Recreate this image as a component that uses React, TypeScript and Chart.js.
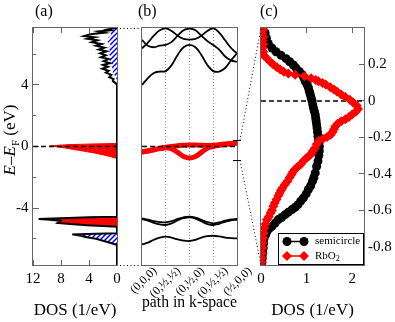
import React, { useEffect, useRef } from 'react';
import { Chart, registerables } from 'chart.js';

Chart.register(...registerables);

const W = 395;
const H = 322;
const SERIF = "'Liberation Serif', 'Times New Roman', serif";
const FRAME = '#666';

// plot rectangles (layout only)
const PA = { left: 33, right: 117, top: 28, bottom: 265 };
const PB = { left: 142, right: 237, top: 28, bottom: 265 };
const PC = { left: 261, right: 364, top: 28, bottom: 265 };

// ---------- axes ----------
const E_MIN_AB = -7.7;
const E_MAX_AB = 7.7;
const E_MIN_C = -0.9;
const E_MAX_C = 0.4;
const DOS_A_MAX = 12;
const DOS_C_MAX = 2.26;
const K_MAX = 4;

const A_X_TICKS = [0, 4, 8, 12];
const A_Y_MAJOR = [-4, 0, 4];
const A_Y_MINOR = [-6, -2, 2, 6];
const C_X_TICKS = [0, 1, 2];
const C_Y_TICKS = [-0.8, -0.6, -0.4, -0.2, 0, 0.2];
const K_TICKS = [0, 1, 2, 3, 4];
const K_LABELS = ['(0,0,0)', '(0,½,½)', '(0,½,0)', '(0,½,½)', '(½,0,0)'];

type Pair = [number, number]; // [energy (eV), DOS (1/eV)]

// ---------- panel (a): DOS ----------
const TOTAL_TOP: Pair[] = [
  [7.7, 0], [7.66, 0.6], [7.6, 1.4], [7.55, 1.0], [7.48, 2.6], [7.4, 1.8], [7.3, 3.8], [7.18, 4.7],
  [7.1, 3.2], [7.0, 4.2], [6.9, 2.8], [6.78, 3.6], [6.66, 2.2], [6.55, 3.0], [6.42, 1.8], [6.3, 2.6],
  [6.18, 1.5], [6.05, 2.4], [5.92, 1.6], [5.8, 2.3], [5.68, 1.2], [5.55, 1.9], [5.42, 1.0], [5.3, 2.0],
  [5.18, 1.3], [5.05, 2.1], [4.92, 1.2], [4.8, 1.6], [4.65, 0.8], [4.5, 1.1], [4.38, 0.5], [4.25, 0.6],
  [4.12, 0.2], [4.0, 0],
];
const BLUE_TOP: Pair[] = [
  [7.7, 0.2], [7.55, 0.6], [7.4, 1.0], [7.25, 0.8], [7.1, 1.3], [6.95, 1.0], [6.8, 1.4], [6.6, 0.9],
  [6.4, 1.3], [6.2, 1.0], [6.0, 1.2], [5.8, 0.8], [5.6, 1.1], [5.4, 0.7], [5.2, 0.9], [5.0, 0.5],
  [4.8, 0.6], [4.6, 0.3], [4.4, 0.1], [4.3, 0],
];
const RED_PEAK_0: Pair[] = [
  [0.2, 0], [0.17, 3.0], [0.12, 7.0], [0.04, 9.6], [-0.04, 8.3], [-0.1, 7.4], [-0.18, 6.4],
  [-0.26, 5.3], [-0.34, 4.3], [-0.44, 3.0], [-0.55, 1.9], [-0.66, 0.9], [-0.74, 0.3], [-0.78, 0],
];
const RED_PEAK_5: Pair[] = [
  [-4.56, 0], [-4.6, 4.0], [-4.66, 8.0], [-4.71, 11.2], [-4.75, 10.0], [-4.82, 8.1], [-4.97, 8.5],
  [-5.05, 6.2], [-5.12, 4.3], [-5.17, 2.0], [-5.21, 0],
];
const BLUE_PEAK_6: Pair[] = [
  [-5.64, 0], [-5.67, 3.0], [-5.71, 6.4], [-5.8, 5.2], [-5.9, 4.3], [-6.0, 3.0], [-6.12, 2.0],
  [-6.25, 1.0], [-6.35, 0.3], [-6.4, 0],
];

// ---------- panel (b): bands along the k path ----------
const K_PATH = [0, 0.25, 0.5, 0.75, 1, 1.25, 1.5, 1.75, 2, 2.25, 2.5, 2.75, 3, 3.25, 3.5, 3.75, 4];
const BAND_1 = [6.38, 6.75, 7.2, 7.55, 7.68, 7.5, 7.2, 7.0, 6.95, 7.0, 7.2, 7.5, 7.68, 7.4, 6.9, 6.4, 6.05];
const BAND_2 = [6.92, 6.55, 6.45, 6.55, 6.6, 6.8, 7.2, 7.55, 7.66, 7.55, 7.2, 6.85, 6.6, 6.3, 5.85, 5.6, 5.5];
const BAND_3 = [4.0, 4.45, 4.78, 4.87, 4.9, 5.3, 5.95, 6.45, 6.6, 6.45, 5.95, 5.3, 4.9, 4.87, 5.1, 5.6, 6.05];
const RED_BAND_1 = [-0.34, -0.28, -0.2, -0.12, -0.05, 0.0, 0.05, 0.08, 0.1, 0.1, 0.08, 0.07, 0.08, 0.12, 0.16, 0.2, 0.25];
const RED_BAND_2 = [-0.36, -0.3, -0.22, -0.14, -0.08, -0.15, -0.38, -0.65, -0.75, -0.65, -0.38, -0.12, 0.0, 0.08, 0.13, 0.18, 0.22];
const LOW_BAND_1 = [-4.67, -4.75, -4.85, -4.91, -4.93, -4.85, -4.7, -4.6, -4.56, -4.62, -4.76, -4.92, -4.99, -4.93, -4.82, -4.74, -4.71];
const LOW_BAND_2 = [-4.72, -4.82, -4.96, -5.06, -5.1, -5.0, -4.8, -4.66, -4.6, -4.68, -4.86, -5.04, -5.1, -5.02, -4.9, -4.8, -4.76];
const LOW_BAND_3 = [-6.36, -6.25, -6.06, -5.92, -5.86, -5.92, -6.04, -6.12, -6.14, -6.06, -5.92, -5.83, -5.8, -5.84, -5.92, -5.96, -5.97];

// ---------- panel (c): DOS near the Fermi level ----------
const SEMICIRCLE: Pair[] = [
  [0.395, 0.0], [0.374, 0.09], [0.345, 0.12], [0.315, 0.16], [0.29, 0.24], [0.27, 0.33], [0.25, 0.44],
  [0.232, 0.55], [0.215, 0.63], [0.197, 0.71], [0.18, 0.77], [0.162, 0.84], [0.145, 0.9], [0.127, 0.94],
  [0.108, 0.97], [0.09, 1.01], [0.072, 1.04], [0.053, 1.06], [0.035, 1.08], [0.017, 1.1], [0.0, 1.12],
  [-0.02, 1.135], [-0.038, 1.15], [-0.056, 1.17], [-0.075, 1.19], [-0.093, 1.2], [-0.11, 1.21],
  [-0.13, 1.22], [-0.149, 1.23], [-0.17, 1.24], [-0.194, 1.25], [-0.212, 1.26], [-0.231, 1.27],
  [-0.25, 1.28], [-0.275, 1.28], [-0.3, 1.27], [-0.33, 1.25], [-0.36, 1.22], [-0.395, 1.19],
  [-0.42, 1.16], [-0.44, 1.13], [-0.465, 1.09], [-0.486, 1.04], [-0.51, 0.99], [-0.532, 0.93],
  [-0.55, 0.87], [-0.569, 0.81], [-0.583, 0.75], [-0.596, 0.68], [-0.61, 0.6], [-0.624, 0.53],
  [-0.64, 0.45], [-0.651, 0.38], [-0.67, 0.31], [-0.688, 0.24], [-0.7, 0.18], [-0.716, 0.13],
  [-0.735, 0.1], [-0.752, 0.07], [-0.78, 0.06], [-0.807, 0.05], [-0.835, 0.04], [-0.862, 0.03],
  [-0.885, 0.02], [-0.905, 0.015],
];
const RBO2: Pair[] = [
  [0.39, 0.05], [0.37, 0.03], [0.35, 0.05], [0.33, 0.03], [0.31, 0.05], [0.29, 0.03], [0.27, 0.05],
  [0.25, 0.06], [0.235, 0.12], [0.215, 0.2], [0.2, 0.27], [0.185, 0.35], [0.172, 0.42], [0.16, 0.5],
  [0.15, 0.6], [0.143, 0.75], [0.136, 0.95], [0.125, 1.1], [0.115, 1.2], [0.108, 1.26], [0.098, 1.35],
  [0.09, 1.42], [0.075, 1.52], [0.062, 1.6], [0.05, 1.67], [0.035, 1.76], [0.022, 1.85], [0.007, 1.95],
  [-0.008, 2.02], [-0.025, 2.1], [-0.044, 2.13], [-0.06, 2.08], [-0.075, 2.0], [-0.088, 1.93],
  [-0.1, 1.85], [-0.112, 1.76], [-0.125, 1.68], [-0.14, 1.63], [-0.155, 1.6], [-0.17, 1.57],
  [-0.185, 1.53], [-0.198, 1.45], [-0.208, 1.36], [-0.218, 1.27], [-0.238, 1.22], [-0.26, 1.18],
  [-0.275, 1.14], [-0.29, 1.1], [-0.303, 1.05], [-0.315, 0.99], [-0.33, 0.93], [-0.349, 0.87],
  [-0.362, 0.8], [-0.376, 0.74], [-0.39, 0.7], [-0.404, 0.67], [-0.42, 0.63], [-0.44, 0.58],
  [-0.46, 0.52], [-0.477, 0.47], [-0.49, 0.44], [-0.505, 0.41], [-0.52, 0.38], [-0.541, 0.34],
  [-0.56, 0.3], [-0.578, 0.27], [-0.6, 0.24], [-0.615, 0.21], [-0.635, 0.17], [-0.651, 0.13],
  [-0.675, 0.1], [-0.697, 0.07], [-0.725, 0.06], [-0.752, 0.05], [-0.78, 0.04], [-0.807, 0.03],
  [-0.835, 0.02], [-0.862, 0.015], [-0.885, 0.01], [-0.905, 0.01],
];
const SERIES_C = ['semicircle', 'RbO2'];

// ---------- helpers ----------
const dosPoints = (pairs: Pair[]) => pairs.map(([e, d]) => ({ x: d, y: e }));
const bandPoints = (band: number[]) => K_PATH.map((k, i) => ({ x: k, y: band[i] }));
const ticksAt = (values: number[]) => (s: any) => {
  s.ticks = values.map((value) => ({ value }));
};
const fixW = (w: number) => (s: any) => {
  s.width = w;
};
const fixH = (h: number) => (s: any) => {
  s.height = h;
};
const fmt = (v: any) => String(v);
const tickFont = { family: SERIF, size: 15 };
const titleFont = { family: SERIF, size: 17 };

const framePlugin = {
  id: 'frame',
  beforeDatasetsDraw(chart: any) {
    const { ctx, chartArea: a } = chart;
    ctx.save();
    ctx.strokeStyle = FRAME;
    ctx.lineWidth = 1;
    ctx.strokeRect(a.left - 0.5, a.top - 0.5, a.right - a.left + 1, a.bottom - a.top + 1);
    ctx.restore();
  },
};

function panelLabel(ctx: CanvasRenderingContext2D, text: string, x: number) {
  ctx.save();
  ctx.font = `16px ${SERIF}`;
  ctx.fillStyle = '#000';
  ctx.textBaseline = 'middle';
  ctx.textAlign = 'left';
  ctx.fillText(text, x, 12);
  ctx.restore();
}

function drawYTitle(ctx: CanvasRenderingContext2D) {
  const parts = [
    { t: 'E', f: `italic 17px ${SERIF}`, dy: 0 },
    { t: '–', f: `17px ${SERIF}`, dy: 0 },
    { t: 'E', f: `italic 17px ${SERIF}`, dy: 0 },
    { t: 'F', f: `11px ${SERIF}`, dy: 4 },
    { t: ' (eV)', f: `17px ${SERIF}`, dy: 0 },
  ];
  ctx.save();
  ctx.translate(15, 140);
  ctx.rotate(-Math.PI / 2);
  ctx.fillStyle = '#000';
  ctx.textBaseline = 'alphabetic';
  ctx.textAlign = 'left';
  let total = 0;
  for (const p of parts) {
    ctx.font = p.f;
    total += ctx.measureText(p.t).width;
  }
  let x = -total / 2;
  for (const p of parts) {
    ctx.font = p.f;
    ctx.fillText(p.t, x, p.dy);
    x += ctx.measureText(p.t).width;
  }
  ctx.restore();
}

function marker(ctx: CanvasRenderingContext2D, shape: string, x: number, y: number, r: number) {
  ctx.beginPath();
  if (shape === 'circle') {
    ctx.arc(x, y, r, 0, Math.PI * 2);
  } else {
    ctx.moveTo(x, y - r);
    ctx.lineTo(x + r, y);
    ctx.lineTo(x, y + r);
    ctx.lineTo(x - r, y);
    ctx.closePath();
  }
  ctx.fill();
}

function drawLegendC(ctx: CanvasRenderingContext2D) {
  const bx = 278.5;
  const by = 233.5;
  ctx.save();
  ctx.fillStyle = '#fff';
  ctx.fillRect(bx, by, 85, 31);
  ctx.strokeStyle = '#000';
  ctx.lineWidth = 1;
  ctx.strokeRect(bx, by, 85, 31);
  const rows = [
    { name: SERIES_C[0], color: '#000', shape: 'circle', r: 4.5, y: 241.5 },
    { name: SERIES_C[1], color: '#f00', shape: 'diamond', r: 5, y: 256 },
  ];
  for (const row of rows) {
    ctx.strokeStyle = row.color;
    ctx.fillStyle = row.color;
    ctx.lineWidth = 1.5;
    ctx.beginPath();
    ctx.moveTo(287, row.y);
    ctx.lineTo(304, row.y);
    ctx.stroke();
    marker(ctx, row.shape, 287, row.y, row.r);
    marker(ctx, row.shape, 304, row.y, row.r);
    ctx.fillStyle = '#000';
    ctx.textBaseline = 'middle';
    ctx.textAlign = 'left';
    const m = row.name.match(/^(.*?)(\d+)$/);
    ctx.font = `11px ${SERIF}`;
    if (m) {
      ctx.fillText(m[1], 315, row.y);
      const w = ctx.measureText(m[1]).width;
      ctx.font = `8px ${SERIF}`;
      ctx.fillText(m[2], 315 + w, row.y + 3);
    } else {
      ctx.fillText(row.name, 315, row.y);
    }
  }
  ctx.restore();
}

function makeHatch(): any {
  const c = document.createElement('canvas');
  c.width = 5;
  c.height = 5;
  const g = c.getContext('2d')!;
  g.strokeStyle = '#0000ff';
  g.lineWidth = 1.5;
  g.beginPath();
  g.moveTo(-1, 6);
  g.lineTo(6, -1);
  g.moveTo(-1, 1);
  g.lineTo(1, -1);
  g.moveTo(4, 6);
  g.lineTo(6, 4);
  g.stroke();
  return g.createPattern(c, 'repeat') || '#00f';
}

const hiddenScaleBase = {
  border: { display: false },
  ticks: { display: false },
};

function configA(hatch: any): any {
  const total = [...TOTAL_TOP, ...RED_PEAK_5, ...BLUE_PEAK_6, [E_MIN_AB, 0] as Pair];
  const ds = (extra: any) => ({ xAxisID: 'x', yAxisID: 'y', pointRadius: 0, fill: false, ...extra });
  return {
    type: 'line',
    data: {
      datasets: [
        ds({ label: 'EF', data: [{ x: DOS_A_MAX, y: 0 }, { x: 0, y: 0 }], borderColor: '#000', borderWidth: 1.5, borderDash: [5, 3], order: 0 }),
        ds({ label: 'total', data: dosPoints(total), borderColor: '#000', borderWidth: 2, order: 1 }),
        ds({ label: 'red0', data: dosPoints(RED_PEAK_0), borderColor: '#f00', borderWidth: 1, backgroundColor: '#f00', fill: 'origin', order: 2 }),
        ds({ label: 'red5', data: dosPoints(RED_PEAK_5), borderColor: '#f00', borderWidth: 0, backgroundColor: '#f00', fill: 'origin', order: 3 }),
        ds({ label: 'blue6', data: dosPoints(BLUE_PEAK_6), borderColor: 'rgba(0,0,0,0)', borderWidth: 0, backgroundColor: hatch, fill: 'origin', order: 4 }),
        ds({ label: 'blueTop', data: dosPoints(BLUE_TOP), borderColor: 'rgba(0,0,0,0)', borderWidth: 0, backgroundColor: hatch, fill: 'origin', order: 5 }),
      ],
    },
    options: {
      responsive: false,
      animation: false,
      indexAxis: 'y',
      events: [],
      elements: { line: { tension: 0 } },
      layout: { padding: { left: 0, top: PA.top, right: W - PA.right, bottom: 0 } },
      plugins: { legend: { display: false }, tooltip: { enabled: false }, title: { display: false } },
      scales: {
        x: {
          type: 'linear', axis: 'x', position: 'bottom', min: 0, max: DOS_A_MAX, reverse: true,
          afterBuildTicks: ticksAt(A_X_TICKS), afterFit: fixH(H - PA.bottom),
          ticks: { font: tickFont, padding: 10, maxRotation: 0, autoSkip: false, callback: fmt, color: '#000' },
          grid: { drawOnChartArea: false, tickLength: -5, tickColor: FRAME },
          border: { display: false },
          title: { display: true, text: 'DOS (1/eV)', font: titleFont, color: '#000', padding: { top: 0, bottom: 1.5 } },
        },
        xTop: {
          type: 'linear', axis: 'x', position: 'top', min: 0, max: DOS_A_MAX, reverse: true,
          afterBuildTicks: ticksAt(A_X_TICKS), afterFit: fixH(0),
          grid: { drawOnChartArea: false, tickLength: -5, tickColor: FRAME },
          ...hiddenScaleBase,
        },
        y: {
          type: 'linear', axis: 'y', position: 'left', min: E_MIN_AB, max: E_MAX_AB, weight: 1,
          afterBuildTicks: ticksAt(A_Y_MAJOR), afterFit: fixW(PA.left),
          ticks: { font: tickFont, padding: 10.5, autoSkip: false, callback: fmt, color: '#000' },
          grid: { drawOnChartArea: false, tickLength: -6, tickColor: FRAME },
          border: { display: false },
        },
        yMinor: {
          type: 'linear', axis: 'y', position: 'left', min: E_MIN_AB, max: E_MAX_AB, weight: 0,
          afterBuildTicks: ticksAt(A_Y_MINOR), afterFit: fixW(0),
          grid: { drawOnChartArea: false, tickLength: -3, tickColor: FRAME },
          ...hiddenScaleBase,
        },
      },
    },
    plugins: [
      framePlugin,
      {
        id: 'aText',
        afterDraw(chart: any) {
          drawYTitle(chart.ctx);
          panelLabel(chart.ctx, '(a)', 35);
        },
      },
    ],
  };
}

function configB(): any {
  const ds = (extra: any) => ({ xAxisID: 'x', yAxisID: 'y', pointRadius: 0, fill: false, ...extra });
  const black = (band: number[], order: number) =>
    ds({ data: bandPoints(band), borderColor: '#000', borderWidth: 1.8, order });
  return {
    type: 'line',
    data: {
      datasets: [
        ds({ label: 'EF', data: [{ x: 0, y: 0 }, { x: K_MAX, y: 0 }], borderColor: '#000', borderWidth: 1.5, borderDash: [5, 3], tension: 0, order: 0 }),
        ds({ label: 'red1', data: bandPoints(RED_BAND_1), borderColor: '#f00', borderWidth: 5, order: 1 }),
        ds({ label: 'red2', data: bandPoints(RED_BAND_2), borderColor: '#f00', borderWidth: 5, order: 2 }),
        black(BAND_1, 3),
        black(BAND_2, 4),
        black(BAND_3, 5),
        black(LOW_BAND_1, 6),
        black(LOW_BAND_2, 7),
        black(LOW_BAND_3, 8),
      ],
    },
    options: {
      responsive: false,
      animation: false,
      events: [],
      elements: { line: { tension: 0.4 } },
      layout: { padding: { left: PB.left, top: PB.top, right: W - PB.right, bottom: 0 } },
      plugins: { legend: { display: false }, tooltip: { enabled: false }, title: { display: false } },
      scales: {
        x: {
          type: 'linear', axis: 'x', position: 'bottom', min: 0, max: K_MAX,
          afterBuildTicks: ticksAt(K_TICKS), afterFit: fixH(H - PB.bottom),
          ticks: {
            font: { family: SERIF, size: 12 }, autoSkip: false, minRotation: 45, maxRotation: 45,
            padding: -1, labelOffset: 13, color: '#000',
            callback: (v: any) => K_LABELS[K_TICKS.indexOf(v)] ?? '',
          },
          grid: {
            drawTicks: false, drawOnChartArea: true, lineWidth: 1,
            color: (c: any) => (c.tick && c.tick.value > 0 && c.tick.value < K_MAX ? '#8a8a8a' : 'rgba(0,0,0,0)'),
          },
          border: { display: false, dash: [1, 2] },
          title: { display: true, text: 'path in k-space', font: titleFont, color: '#000', padding: { top: 0, bottom: 9 } },
        },
        y: { type: 'linear', axis: 'y', display: false, min: E_MIN_AB, max: E_MAX_AB },
      },
    },
    plugins: [
      framePlugin,
      {
        id: 'bText',
        afterDraw(chart: any) {
          panelLabel(chart.ctx, '(b)', 138);
        },
      },
    ],
  };
}

function configC(getA: () => any, getB: () => any): any {
  const ds = (extra: any) => ({ xAxisID: 'x', yAxisID: 'y', fill: false, ...extra });
  return {
    type: 'line',
    data: {
      datasets: [
        ds({ label: SERIES_C[1], data: dosPoints(RBO2), borderColor: '#f00', backgroundColor: '#f00', borderWidth: 1.5, pointStyle: 'rectRot', pointRadius: 5, pointBorderWidth: 0, order: 0 }),
        ds({ label: SERIES_C[0], data: dosPoints(SEMICIRCLE), borderColor: '#000', backgroundColor: '#000', borderWidth: 1.5, pointStyle: 'circle', pointRadius: 4.5, pointBorderWidth: 0, order: 1 }),
        ds({ label: 'EF', data: [{ x: 0, y: 0 }, { x: DOS_C_MAX, y: 0 }], borderColor: '#000', borderWidth: 1.5, borderDash: [5, 3], pointRadius: 0, order: 2 }),
      ],
    },
    options: {
      responsive: false,
      animation: false,
      indexAxis: 'y',
      events: [],
      elements: { line: { tension: 0 } },
      layout: { padding: { left: PC.left, top: PC.top, right: 0, bottom: 0 } },
      plugins: { legend: { display: false }, tooltip: { enabled: false }, title: { display: false } },
      scales: {
        x: {
          type: 'linear', axis: 'x', position: 'bottom', min: 0, max: DOS_C_MAX,
          afterBuildTicks: ticksAt(C_X_TICKS), afterFit: fixH(H - PC.bottom),
          ticks: { font: tickFont, padding: 10, maxRotation: 0, autoSkip: false, callback: fmt, color: '#000' },
          grid: { drawOnChartArea: false, tickLength: -5, tickColor: FRAME },
          border: { display: false },
          title: { display: true, text: 'DOS (1/eV)', font: titleFont, color: '#000', padding: { top: 0, bottom: 1.5 } },
        },
        xTop: {
          type: 'linear', axis: 'x', position: 'top', min: 0, max: DOS_C_MAX,
          afterBuildTicks: ticksAt(C_X_TICKS), afterFit: fixH(0),
          grid: { drawOnChartArea: false, tickLength: -5, tickColor: FRAME },
          ...hiddenScaleBase,
        },
        y: {
          type: 'linear', axis: 'y', position: 'right', min: E_MIN_C, max: E_MAX_C,
          afterBuildTicks: ticksAt(C_Y_TICKS), afterFit: fixW(W - PC.right),
          ticks: { font: tickFont, padding: 9, autoSkip: false, callback: fmt, color: '#000' },
          grid: { drawOnChartArea: false, tickLength: -5, tickColor: FRAME },
          border: { display: false },
        },
      },
    },
    plugins: [
      framePlugin,
      {
        id: 'cText',
        afterDraw(chart: any) {
          const ctx = chart.ctx as CanvasRenderingContext2D;
          panelLabel(ctx, '(c)', 260);
          drawLegendC(ctx);
          const a = getA();
          const b = getB();
          if (!a || !b) return;
          const aa = a.chartArea;
          const ba = b.chartArea;
          const ca = chart.chartArea;
          const yTop = b.scales.y.getPixelForValue(E_MAX_C);
          const yBot = b.scales.y.getPixelForValue(E_MIN_C);
          ctx.save();
          ctx.strokeStyle = '#000';
          ctx.lineWidth = 1;
          ctx.setLineDash([1, 2.5]);
          ctx.beginPath();
          ctx.moveTo(aa.right + 3, aa.top + 0.5);
          ctx.lineTo(ba.left - 3, ba.top + 0.5);
          ctx.moveTo(aa.right + 3, aa.bottom + 0.5);
          ctx.lineTo(ba.left - 3, ba.bottom + 0.5);
          ctx.moveTo(ba.right + 3, yTop);
          ctx.lineTo(ca.left, ca.top);
          ctx.moveTo(ba.right + 3, yBot);
          ctx.lineTo(ca.left, ca.bottom);
          ctx.stroke();
          ctx.setLineDash([]);
          ctx.beginPath();
          ctx.moveTo(ba.right - 4, Math.round(yTop) + 0.5);
          ctx.lineTo(ba.right + 4, Math.round(yTop) + 0.5);
          ctx.moveTo(ba.right - 4, Math.round(yBot) + 0.5);
          ctx.lineTo(ba.right + 4, Math.round(yBot) + 0.5);
          ctx.stroke();
          ctx.restore();
        },
      },
    ],
  };
}

export default function App() {
  const refA = useRef<HTMLCanvasElement>(null);
  const refB = useRef<HTMLCanvasElement>(null);
  const refC = useRef<HTMLCanvasElement>(null);

  useEffect(() => {
    Chart.defaults.font.family = SERIF;
    Chart.defaults.color = '#000';
    const hatch = makeHatch();
    let a: any = null;
    let b: any = null;
    a = new Chart(refA.current!, configA(hatch));
    b = new Chart(refB.current!, configB());
    const c = new Chart(refC.current!, configC(() => a, () => b));
    return () => {
      c.destroy();
      b.destroy();
      a.destroy();
    };
  }, []);

  const cs: React.CSSProperties = { position: 'absolute', left: 0, top: 0, width: W, height: H };
  return (
    <div style={{ position: 'fixed', left: 0, top: 0, width: W, height: H, background: '#fff' }}>
      <canvas ref={refA} width={W} height={H} style={cs} />
      <canvas ref={refB} width={W} height={H} style={cs} />
      <canvas ref={refC} width={W} height={H} style={cs} />
    </div>
  );
}
